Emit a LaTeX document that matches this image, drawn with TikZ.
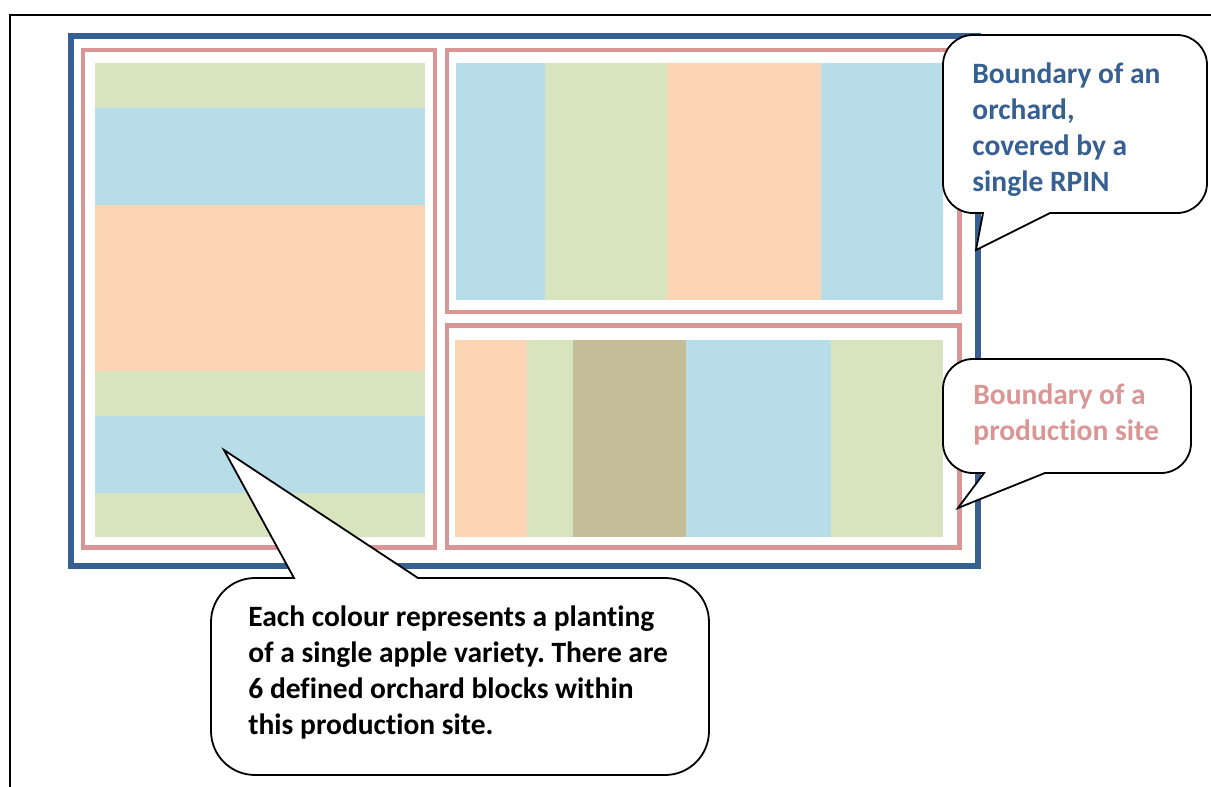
\documentclass[tikz,border=0pt]{standalone}
\usepackage{fontspec}
\setmainfont{Carlito}[Ligatures=NoCommon]
\definecolor{orchardline}{HTML}{376092}
\definecolor{siteline}{HTML}{D99694}
\definecolor{greenblock}{HTML}{D7E4BD}
\definecolor{blueblock}{HTML}{B7DEE8}
\definecolor{orangeblock}{HTML}{FCD5B5}
\definecolor{tanblock}{HTML}{C4BD97}
\tikzset{
  pageframe/.style={draw=black, line width=1pt},
  orchard/.style={draw=orchardline, line width=3pt},
  site/.style={draw=siteline, line width=2.25pt},
  callout/.style={fill=white, draw=black, line width=0.9pt, rounded corners=15pt},
  note/.style={anchor=north west, inner sep=0pt, align=left, font=\fontsize{14.75}{18}\selectfont\bfseries}
}
\frenchspacing
\begin{document}
\begin{tikzpicture}[x=0.5pt, y=-0.5pt]
\useasboundingbox (0,0) rectangle (1211,787);
\draw[pageframe] (10,787) -- (10,15) -- (1211,15);

% planting blocks, left site
\foreach \ya/\yb/\col in {63/108/greenblock, 108/205/blueblock, 205/371/orangeblock,
    371/416/greenblock, 416/493/blueblock, 493/537/greenblock}
  \fill[\col] (95,\ya) rectangle (425,\yb);
% planting blocks, top right site
\foreach \xa/\xb/\col in {456/545/blueblock, 545/667/greenblock, 667/821/orangeblock, 821/943/blueblock}
  \fill[\col] (\xa,63) rectangle (\xb,300);
% planting blocks, bottom right site
\foreach \xa/\xb/\col in {455/527/orangeblock, 527/573/greenblock, 573/686/tanblock,
    686/831/blueblock, 831/943/greenblock}
  \fill[\col] (\xa,340) rectangle (\xb,537);

% boundaries
\draw[orchard] (71,36) rectangle (977.5,566);
\draw[site] (83,50) rectangle (435,547.5);
\draw[site] (447,50) rectangle (959.5,312);
\draw[site] (447,325.5) rectangle (959.5,547.5);

% callouts
\draw[callout] (1075,35) -- (943,35) -- (943,213) [sharp corners] -- (983,213) -- (976,250)
  -- (1050,213) [rounded corners=15pt] -- (1207,213) -- (1207,35) -- cycle;
\draw[callout] (1070,359) -- (943,359) -- (943,473) [sharp corners] -- (984,473) -- (958,508)
  -- (1045,473) [rounded corners=15pt] -- (1191,473) -- (1191,359) -- cycle;
\draw[callout, rounded corners=22pt] (460,775) -- (211,775) -- (211,578) [sharp corners] -- (294,578) -- (224,450)
  -- (418,578) [rounded corners=22pt] -- (709,578) -- (709,775) -- cycle;

\node[note, text=orchardline] (orchardnote) at (972,62) {Boundary of an\\orchard,\\covered by a\\single RPIN};
\node[note, text=siteline] (sitenote) at (973,383) {Boundary of a\\production site};
\node[note] (blocknote) at (248,605) {Each colour represents a planting\\of a single apple variety. There are\\6 defined orchard blocks within\\this production site.};
\end{tikzpicture}
\end{document}
